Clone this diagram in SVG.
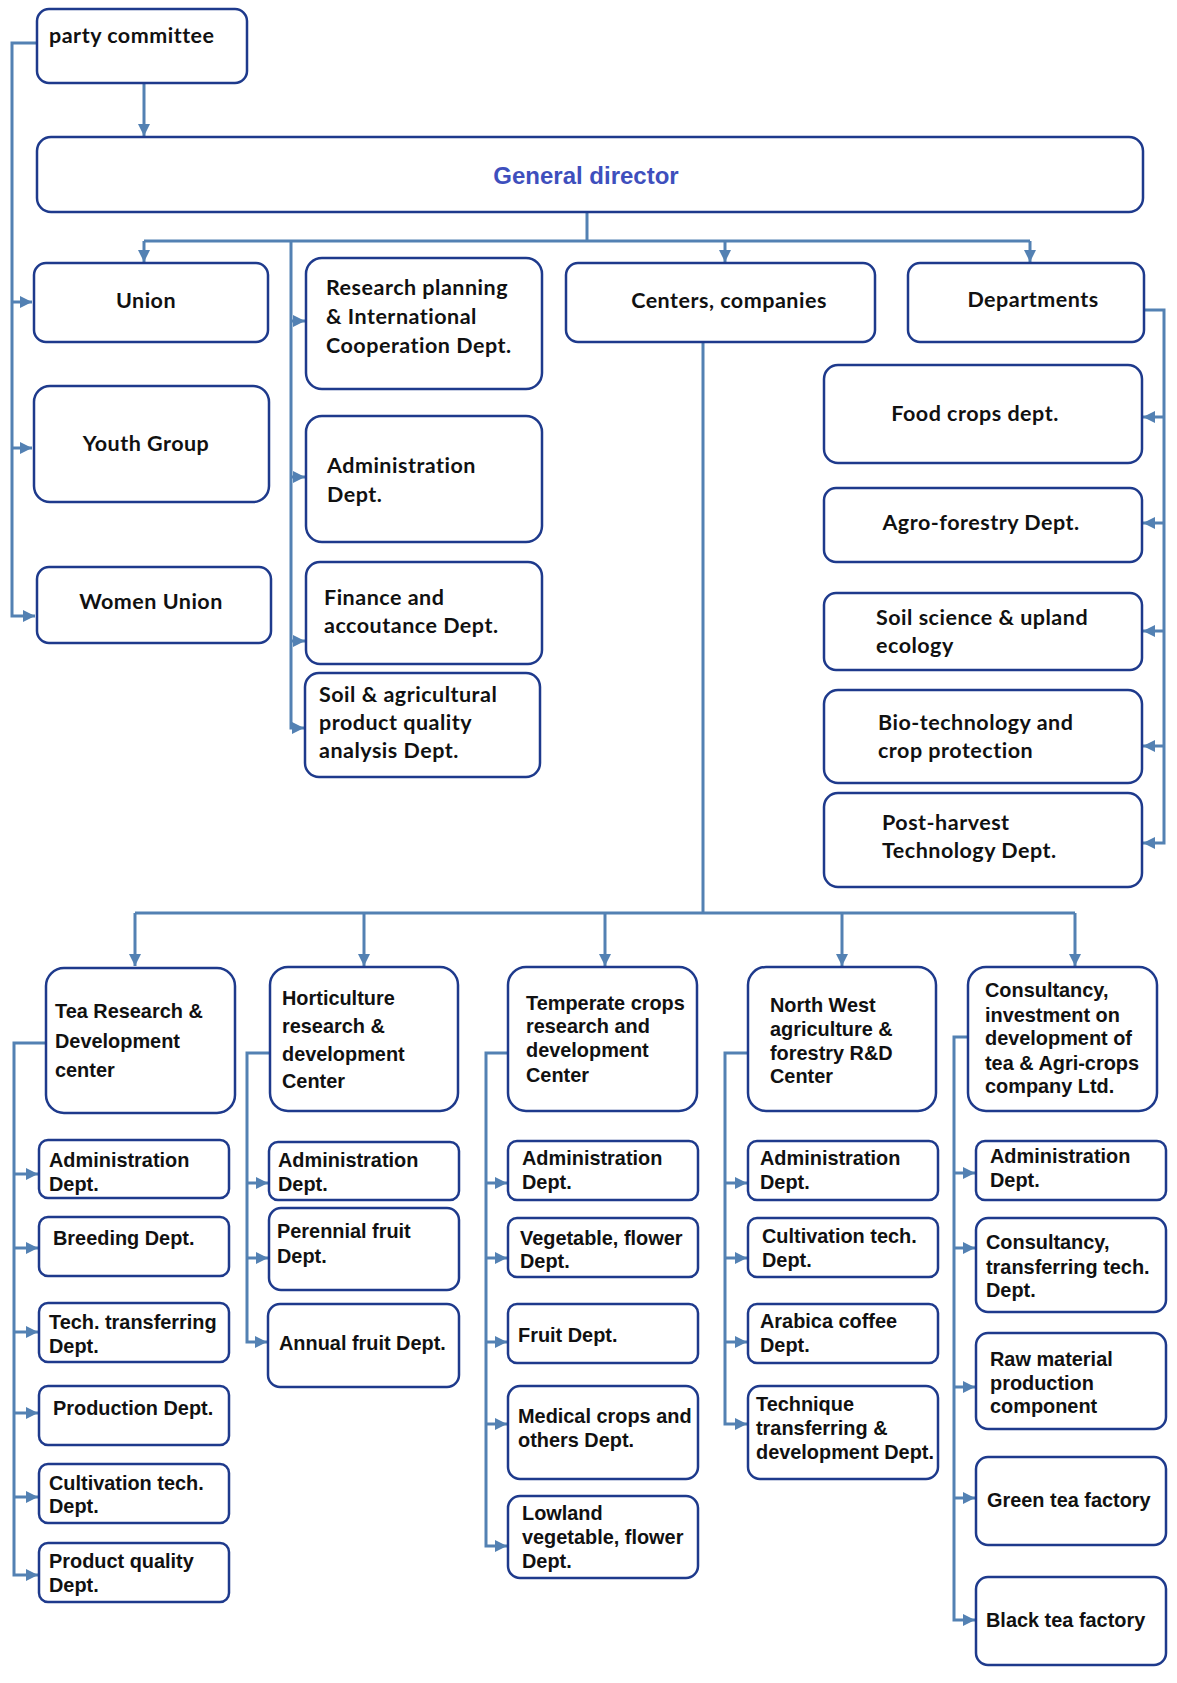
<svg xmlns="http://www.w3.org/2000/svg" width="1177" height="1683" viewBox="0 0 1177 1683">
<style>
.box{fill:#fff;stroke:#1e3a8c;stroke-width:2.5}
.c{font-family:Lato,"Liberation Sans",sans-serif;font-weight:700;font-size:21.5px;letter-spacing:0.5px;fill:#111}
.a{font-family:"Liberation Sans",Arial,sans-serif;font-weight:700;font-size:19.9px;fill:#111}
.n{font-family:"Liberation Sans",Arial,sans-serif;font-weight:700;font-size:19.9px;fill:#111}
.mid{text-anchor:middle}
.con path{fill:none;stroke:#5381b3;stroke-width:3}
.con .ar{marker-end:url(#ah)}
</style>
<defs>
<marker id="ah" viewBox="0 0 10 10" refX="10" refY="5" markerWidth="12" markerHeight="12" markerUnits="userSpaceOnUse" orient="auto"><path d="M0,0 L10,5 L0,10 z" fill="#5381b3"/></marker>
</defs>
<rect width="1177" height="1683" fill="#fff"/>
<g class="con" id="connectors">
<path d="M37,43 H12 V616 H35" class="ar"/>
<path d="M12,302 H32" class="ar"/>
<path d="M12,448 H32" class="ar"/>
<path d="M144,83 V136" class="ar"/>
<path d="M587,212 V241"/>
<path d="M144,241 H1030"/>
<path d="M144,241 V262" class="ar"/>
<path d="M725,241 V262" class="ar"/>
<path d="M1030,241 V262" class="ar"/>
<path d="M291,241 V728 H304" class="ar"/>
<path d="M291,321 H305" class="ar"/>
<path d="M291,477 H305" class="ar"/>
<path d="M291,641 H305" class="ar"/>
<path d="M1144,310 H1164 V843 H1143" class="ar"/>
<path d="M1164,417 H1143" class="ar"/>
<path d="M1164,523 H1143" class="ar"/>
<path d="M1164,631 H1143" class="ar"/>
<path d="M1164,746 H1143" class="ar"/>
<path d="M703,342 V913"/>
<path d="M135,913 H1075"/>
<path d="M135,913 V966" class="ar"/>
<path d="M364,913 V966" class="ar"/>
<path d="M605,913 V966" class="ar"/>
<path d="M842,913 V966" class="ar"/>
<path d="M1075,913 V966" class="ar"/>
<path d="M46,1043 H14 V1575 H38" class="ar"/>
<path d="M14,1174 H38" class="ar"/>
<path d="M14,1248 H38" class="ar"/>
<path d="M14,1332 H38" class="ar"/>
<path d="M14,1413 H38" class="ar"/>
<path d="M14,1497 H38" class="ar"/>
<path d="M270,1053 H247 V1342 H267" class="ar"/>
<path d="M247,1183 H268" class="ar"/>
<path d="M247,1258 H268" class="ar"/>
<path d="M508,1053 H486 V1546 H507" class="ar"/>
<path d="M486,1183 H507" class="ar"/>
<path d="M486,1258 H507" class="ar"/>
<path d="M486,1342 H507" class="ar"/>
<path d="M486,1424 H507" class="ar"/>
<path d="M748,1053 H725 V1424 H747" class="ar"/>
<path d="M725,1183 H747" class="ar"/>
<path d="M725,1258 H747" class="ar"/>
<path d="M725,1342 H747" class="ar"/>
<path d="M968,1037 H954 V1620 H975" class="ar"/>
<path d="M954,1173 H975" class="ar"/>
<path d="M954,1248 H975" class="ar"/>
<path d="M954,1387 H975" class="ar"/>
<path d="M954,1498 H975" class="ar"/>
</g>
<g id="party"><rect class="box" x="37" y="9" width="210" height="74" rx="12"/><text class="c" x="49" y="43">party committee</text></g>
<g id="gd"><rect class="box" x="37" y="137" width="1106" height="75" rx="14"/><text x="586" y="184" text-anchor="middle" font-family="Liberation Sans, Arial, sans-serif" font-weight="700" font-size="24" fill="#3e4fbd">General director</text></g>
<g id="union"><rect class="box" x="34" y="263" width="234" height="79" rx="12"/><text class="c mid" x="146" y="308">Union</text></g>
<g id="youth"><rect class="box" x="34" y="386" width="235" height="116" rx="16"/><text class="c mid" x="146" y="451">Youth Group</text></g>
<g id="women"><rect class="box" x="37" y="567" width="234" height="76" rx="12"/><text class="c mid" x="151" y="609">Women Union</text></g>
<g id="research"><rect class="box" x="306" y="258" width="236" height="131" rx="16"/><text class="c" x="326" y="295">Research planning</text><text class="c" x="326" y="324">&amp; International</text><text class="c" x="326" y="353">Cooperation Dept.</text></g>
<g id="admin-top"><rect class="box" x="306" y="416" width="236" height="126" rx="16"/><text class="c" x="327" y="473">Administration</text><text class="c" x="327" y="502">Dept.</text></g>
<g id="finance"><rect class="box" x="306" y="562" width="236" height="102" rx="14"/><text class="c" x="324" y="605">Finance and</text><text class="c" x="324" y="633">accoutance Dept.</text></g>
<g id="soil-agri"><rect class="box" x="305" y="673" width="235" height="104" rx="14"/><text class="c" x="319" y="702">Soil &amp; agricultural</text><text class="c" x="319" y="730">product quality</text><text class="c" x="319" y="758">analysis Dept.</text></g>
<g id="centers"><rect class="box" x="566" y="263" width="309" height="79" rx="12"/><text class="c mid" x="729" y="308">Centers, companies</text></g>
<g id="departments"><rect class="box" x="908" y="263" width="236" height="79" rx="12"/><text class="c mid" x="1033" y="307">Departments</text></g>
<g id="food"><rect class="box" x="824" y="365" width="318" height="98" rx="14"/><text class="c mid" x="975" y="421">Food crops dept.</text></g>
<g id="agro"><rect class="box" x="824" y="488" width="318" height="74" rx="12"/><text class="c mid" x="981" y="530">Agro-forestry Dept.</text></g>
<g id="soil-sci"><rect class="box" x="824" y="593" width="318" height="77" rx="12"/><text class="c" x="876" y="625">Soil science &amp; upland</text><text class="c" x="876" y="653">ecology</text></g>
<g id="bio"><rect class="box" x="824" y="690" width="318" height="93" rx="14"/><text class="c" x="878" y="730">Bio-technology and</text><text class="c" x="878" y="758">crop protection</text></g>
<g id="post"><rect class="box" x="824" y="793" width="318" height="94" rx="14"/><text class="c" x="882" y="830">Post-harvest</text><text class="c" x="882" y="858">Technology Dept.</text></g>
<g id="tea"><rect class="box" x="46" y="968" width="189" height="145" rx="18"/><text class="a" x="55" y="1018" font-size="20.6">Tea Research &amp;</text><text class="a" x="55" y="1048" font-size="20.6">Development</text><text class="a" x="55" y="1077" font-size="20.6">center</text></g>
<g id="hort"><rect class="box" x="270" y="967" width="188" height="144" rx="18"/><text class="a" x="282" y="1005">Horticulture</text><text class="a" x="282" y="1033">research &amp;</text><text class="a" x="282" y="1061">development</text><text class="a" x="282" y="1088">Center</text></g>
<g id="temperate"><rect class="box" x="508" y="967" width="189" height="144" rx="18"/><text class="n" x="526" y="1010">Temperate crops</text><text class="n" x="526" y="1033">research and</text><text class="n" x="526" y="1057">development</text><text class="n" x="526" y="1082">Center</text></g>
<g id="nw"><rect class="box" x="748" y="967" width="188" height="144" rx="18"/><text class="n" x="770" y="1012">North West</text><text class="n" x="770" y="1036">agriculture &amp;</text><text class="n" x="770" y="1060">forestry R&amp;D</text><text class="n" x="770" y="1083">Center</text></g>
<g id="consult"><rect class="box" x="968" y="967" width="189" height="144" rx="18"/><text class="n" x="985" y="997">Consultancy,</text><text class="n" x="985" y="1022">investment on</text><text class="n" x="985" y="1045">development of</text><text class="n" x="985" y="1070">tea &amp; Agri-crops</text><text class="n" x="985" y="1093">company Ltd.</text></g>
<g id="tea-admin"><rect class="box" x="39" y="1140" width="190" height="58" rx="9"/><text class="a" x="49" y="1167">Administration</text><text class="a" x="49" y="1191">Dept.</text></g>
<g id="tea-breeding"><rect class="box" x="39" y="1217" width="190" height="59" rx="9"/><text class="a" x="53" y="1245">Breeding Dept.</text></g>
<g id="tea-tech"><rect class="box" x="39" y="1303" width="190" height="59" rx="9"/><text class="a" x="49" y="1329">Tech. transferring</text><text class="a" x="49" y="1353">Dept.</text></g>
<g id="tea-prod"><rect class="box" x="39" y="1386" width="190" height="59" rx="9"/><text class="a" x="53" y="1415">Production Dept.</text></g>
<g id="tea-cult"><rect class="box" x="39" y="1464" width="190" height="59" rx="9"/><text class="a" x="49" y="1490">Cultivation tech.</text><text class="a" x="49" y="1513">Dept.</text></g>
<g id="tea-quality"><rect class="box" x="39" y="1543" width="190" height="59" rx="9"/><text class="a" x="49" y="1568">Product quality</text><text class="a" x="49" y="1592">Dept.</text></g>
<g id="hort-admin"><rect class="box" x="269" y="1142" width="190" height="58" rx="9"/><text class="a" x="278" y="1167">Administration</text><text class="a" x="278" y="1191">Dept.</text></g>
<g id="hort-perennial"><rect class="box" x="269" y="1208" width="190" height="82" rx="12"/><text class="a" x="277" y="1238">Perennial fruit</text><text class="a" x="277" y="1263">Dept.</text></g>
<g id="hort-annual"><rect class="box" x="268" y="1304" width="191" height="83" rx="12"/><text class="a" x="279" y="1350">Annual fruit Dept.</text></g>
<g id="temp-admin"><rect class="box" x="508" y="1141" width="190" height="59" rx="9"/><text class="n" x="522" y="1165">Administration</text><text class="n" x="522" y="1189">Dept.</text></g>
<g id="temp-veg"><rect class="box" x="508" y="1218" width="190" height="59" rx="9"/><text class="n" x="520" y="1245">Vegetable, flower</text><text class="n" x="520" y="1268">Dept.</text></g>
<g id="temp-fruit"><rect class="box" x="508" y="1304" width="190" height="59" rx="9"/><text class="n" x="518" y="1342">Fruit Dept.</text></g>
<g id="temp-medical"><rect class="box" x="508" y="1386" width="190" height="93" rx="12"/><text class="n" x="518" y="1423">Medical crops and</text><text class="n" x="518" y="1447">others Dept.</text></g>
<g id="temp-lowland"><rect class="box" x="508" y="1496" width="190" height="82" rx="12"/><text class="n" x="522" y="1520">Lowland</text><text class="n" x="522" y="1544">vegetable, flower</text><text class="n" x="522" y="1568">Dept.</text></g>
<g id="nw-admin"><rect class="box" x="748" y="1141" width="190" height="59" rx="9"/><text class="n" x="760" y="1165">Administration</text><text class="n" x="760" y="1189">Dept.</text></g>
<g id="nw-cult"><rect class="box" x="748" y="1218" width="190" height="59" rx="9"/><text class="n" x="762" y="1243">Cultivation tech.</text><text class="n" x="762" y="1267">Dept.</text></g>
<g id="nw-arabica"><rect class="box" x="748" y="1304" width="190" height="59" rx="9"/><text class="n" x="760" y="1328">Arabica coffee</text><text class="n" x="760" y="1352">Dept.</text></g>
<g id="nw-technique"><rect class="box" x="748" y="1386" width="190" height="93" rx="12"/><text class="n" x="756" y="1411">Technique</text><text class="n" x="756" y="1435">transferring &amp;</text><text class="n" x="756" y="1459">development Dept.</text></g>
<g id="cons-admin"><rect class="box" x="976" y="1141" width="190" height="59" rx="9"/><text class="n" x="990" y="1163">Administration</text><text class="n" x="990" y="1187">Dept.</text></g>
<g id="cons-transfer"><rect class="box" x="976" y="1218" width="190" height="94" rx="12"/><text class="n" x="986" y="1249">Consultancy,</text><text class="n" x="986" y="1274">transferring tech.</text><text class="n" x="986" y="1297">Dept.</text></g>
<g id="cons-raw"><rect class="box" x="976" y="1333" width="190" height="96" rx="12"/><text class="n" x="990" y="1366">Raw material</text><text class="n" x="990" y="1390">production</text><text class="n" x="990" y="1413">component</text></g>
<g id="cons-green"><rect class="box" x="976" y="1457" width="190" height="88" rx="12"/><text class="n" x="987" y="1507">Green tea factory</text></g>
<g id="cons-black"><rect class="box" x="976" y="1577" width="190" height="88" rx="12"/><text class="n" x="986" y="1627">Black tea factory</text></g>
</svg>
